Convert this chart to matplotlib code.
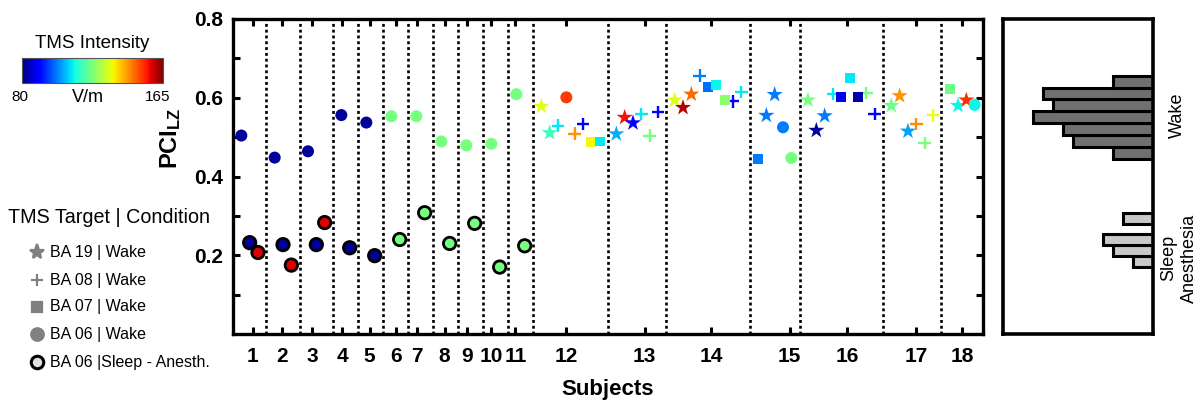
import numpy as np
import matplotlib
import matplotlib.pyplot as plt
from matplotlib.colors import Normalize

plt.rcParams['font.family'] = ['Liberation Sans', 'DejaVu Sans']
plt.rcParams['mathtext.fontset'] = 'custom'
plt.rcParams['mathtext.rm'] = 'Liberation Sans'
plt.rcParams['mathtext.bf'] = 'Liberation Sans:bold'

# one entry per TMS session, ordered subject by subject
subject = [1, 1, 1, 2, 2, 2, 3, 3, 3, 4, 4, 5, 5, 6, 6, 7, 7, 8, 8, 9, 9, 10, 10, 11, 11,
           12, 12, 12, 12, 12, 12, 12, 12,
           13, 13, 13, 13, 13, 13,
           14, 14, 14, 14, 14, 14, 14, 14, 14,
           15, 15, 15, 15, 15,
           16, 16, 16, 16, 16, 16, 16, 16, 16,
           17, 17, 17, 17, 17, 17,
           18, 18, 18, 18]
target = ['BA06', 'sleep', 'sleep', 'BA06', 'sleep', 'sleep', 'BA06', 'sleep', 'sleep',
          'BA06', 'sleep', 'BA06', 'sleep', 'BA06', 'sleep', 'BA06', 'sleep',
          'BA06', 'sleep', 'BA06', 'sleep', 'BA06', 'sleep', 'BA06', 'sleep',
          'BA19', 'BA19', 'BA08', 'BA06', 'BA08', 'BA08', 'BA07', 'BA07',
          'BA19', 'BA19', 'BA19', 'BA08', 'BA08', 'BA08',
          'BA19', 'BA19', 'BA19', 'BA08', 'BA07', 'BA07', 'BA07', 'BA08', 'BA08',
          'BA07', 'BA19', 'BA19', 'BA06', 'BA06',
          'BA19', 'BA19', 'BA19', 'BA08', 'BA07', 'BA07', 'BA07', 'BA08', 'BA08',
          'BA19', 'BA19', 'BA19', 'BA08', 'BA08', 'BA08',
          'BA07', 'BA19', 'BA19', 'BA06']
intensity = [82, 82, 158, 82, 82, 158, 82, 82, 158, 82, 82, 82, 82,
             122, 122, 122, 122, 122, 122, 122, 122, 122, 122, 122, 122,
             133, 116, 110, 152, 144, 90, 135, 110,
             105, 156, 90, 110, 122, 90,
             133, 161, 148, 101, 100, 111, 124, 90, 110,
             101, 101, 101, 101, 122,
             122, 82, 101, 110, 88, 110, 83, 122, 90,
             121, 144, 104, 145, 122, 134,
             121, 111, 153, 111]
pci = [0.504, 0.232, 0.207, 0.448, 0.227, 0.175, 0.464, 0.227, 0.283,
       0.556, 0.219, 0.537, 0.199, 0.553, 0.240, 0.553, 0.308,
       0.489, 0.230, 0.479, 0.281, 0.483, 0.170, 0.609, 0.224,
       0.578, 0.511, 0.529, 0.601, 0.509, 0.533, 0.487, 0.489,
       0.508, 0.550, 0.536, 0.559, 0.504, 0.564,
       0.594, 0.575, 0.609, 0.656, 0.627, 0.633, 0.595, 0.591, 0.614,
       0.445, 0.555, 0.608, 0.525, 0.447,
       0.594, 0.517, 0.554, 0.609, 0.601, 0.651, 0.601, 0.612, 0.559,
       0.580, 0.605, 0.515, 0.534, 0.485, 0.555,
       0.623, 0.580, 0.594, 0.582]

subject_labels = [str(s) for s in range(1, 19)]

subject = np.array(subject)
target = np.array(target)
intensity = np.array(intensity)
pci = np.array(pci)

# x position = running index, one empty slot between subjects for the divider
xpos = []
dividers = []
i = 1
prev = subject[0]
for s in subject:
    if s != prev:
        dividers.append(i)
        i += 1
        prev = s
    xpos.append(i)
    i += 1
xpos = np.array(xpos)

label_pos = [2.4, 5.9, 9.5, 13.1, 16.4, 19.6, 22.1, 25.4, 28.1, 31.0, 33.9,
             40.0, 49.4, 57.4, 66.8, 73.7, 82.0, 87.5]

cmap = matplotlib.colormaps['jet']
norm = Normalize(vmin=80, vmax=165)

fig = plt.figure(figsize=(12, 4.01), dpi=100)
ax = fig.add_axes([233 / 1200, 67 / 401, 750 / 1200, 315 / 401])

for d in dividers:
    ax.axvline(d, color='black', lw=1.9, ls=(0, (1.1, 1.1)), zorder=1)

styles = {
    'BA19': dict(marker='*', s=150, linewidths=0),
    'BA08': dict(marker='+', s=80, linewidths=1.7),
    'BA07': dict(marker='s', s=50, linewidths=0),
    'BA06': dict(marker='o', s=75, linewidths=0),
    'sleep': dict(marker='o', s=80, edgecolors='black', linewidths=2.0),
}
for key, st in styles.items():
    m = target == key
    ax.scatter(xpos[m], pci[m], c=intensity[m], cmap=cmap, norm=norm, zorder=3, **st)

ax.set_xlim(0, 90)
ax.set_ylim(0, 0.8)
ax.set_yticks(np.arange(1, 9) / 10)
ax.set_yticklabels(['', '0.2', '', '0.4', '', '0.6', '', '0.8'])
ax.set_xticks(label_pos)
ax.set_xticklabels(subject_labels)
ax.tick_params(direction='in', length=5, width=2.2, top=True, right=True,
               labelsize=15)
ax.tick_params(axis='y', pad=7)
ax.tick_params(axis='x', pad=9)
for lab in ax.get_xticklabels() + ax.get_yticklabels():
    lab.set_fontweight('bold')
for sp in ax.spines.values():
    sp.set_linewidth(2.4)
ax.set_xlabel('Subjects', fontsize=16, fontweight='bold', labelpad=10)
ax.set_ylabel(r'$\mathbf{PCI_{LZ}}$', fontsize=17)
ax.yaxis.set_label_coords(-0.066, 0.62)

# histogram of PCI values, wake vs sleep/anesthesia
axh = fig.add_axes([1003 / 1200, 67 / 401, 150 / 1200, 315 / 401])
wake = pci[target != 'sleep']
sleep = pci[target == 'sleep']
for vals, nb, face in [(wake, 7, '#707070'), (sleep, 5, '#c8c8c8')]:
    counts, edges = np.histogram(vals, bins=nb)
    axh.barh(edges[:-1], counts, height=np.diff(edges), align='edge',
             color=face, edgecolor='black', linewidth=2.2)
axh.set_xlim(15, 0)
axh.set_ylim(0, 0.8)
axh.set_xticks([])
axh.set_yticks([])
for sp in axh.spines.values():
    sp.set_linewidth(2.6)
fig.text(1177 / 1200, 1 - 115 / 401, 'Wake', rotation=90, fontsize=13,
         ha='center', va='center')
fig.text(1179 / 1200, 1 - 258 / 401, 'Sleep\nAnesthesia', rotation=90, fontsize=13,
         ha='center', va='center', linespacing=1.25)

# intensity colour scale
cax = fig.add_axes([22 / 1200, 1 - 83 / 401, 141 / 1200, 25 / 401])
cb = fig.colorbar(matplotlib.cm.ScalarMappable(norm=norm, cmap=cmap), cax=cax,
                  orientation='horizontal')
cb.set_ticks([])
cb.outline.set_linewidth(0.8)
cb.outline.set_edgecolor('#555555')
fig.text(92 / 1200, 1 - 43 / 401, 'TMS Intensity', fontsize=13.5, ha='center', va='center')
fig.text(20 / 1200, 1 - 97 / 401, '80', fontsize=11, ha='center', va='center')
fig.text(88 / 1200, 1 - 97 / 401, 'V/m', fontsize=13, ha='center', va='center')
fig.text(158 / 1200, 1 - 97 / 401, '165', fontsize=11, ha='center', va='center')

# marker key
axk = fig.add_axes([0, 0, 1, 1], zorder=-1)
axk.set_xlim(0, 1200)
axk.set_ylim(401, 0)
axk.axis('off')
fig.text(8 / 1200, 1 - 217 / 401, 'TMS Target | Condition', fontsize=14.2,
         ha='left', va='center')
key_rows = [('*', 'BA 19 | Wake', 11, 252),
            ('+', 'BA 08 | Wake', 9, 280),
            ('s', 'BA 07 | Wake', 7.5, 307),
            ('o', 'BA 06 | Wake', 9, 334),
            ('o', 'BA 06 |Sleep - Anesth.', 9, 362)]
for mk, txt, ms, yy in key_rows:
    if txt.endswith('Anesth.'):
        axk.plot(37, yy, marker=mk, ms=ms, mfc='#e0e0e0', mec='black', mew=2.2)
    else:
        axk.plot(37, yy, marker=mk, ms=ms, color='#808080', mew=1.6)
    axk.text(50, yy, txt, fontsize=11.5, ha='left', va='center')

fig.savefig('out.png', dpi=100)
